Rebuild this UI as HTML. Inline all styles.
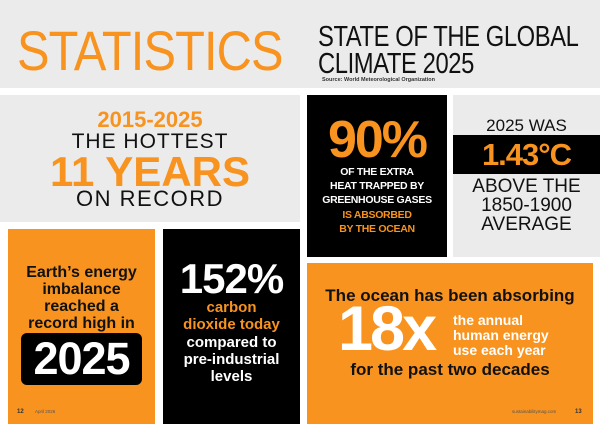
<!DOCTYPE html>
<html><head><meta charset="utf-8"><style>
*{margin:0;padding:0;box-sizing:border-box}
body{width:600px;height:424px;background:#fff;position:relative;overflow:hidden;font-family:"Liberation Sans",sans-serif}
.a{position:absolute}
.t{position:absolute;white-space:nowrap;line-height:1}
.o{color:#f7931e}
.c{text-align:center}
</style></head><body>
<div class="a" style="left:0;top:0;width:600px;height:88px;background:#ebebeb"></div>
<div class="t o" style="left:17px;top:23px;font-size:56px;letter-spacing:-1px;transform:scaleX(0.87);transform-origin:left">STATISTICS</div>
<div class="t" style="left:318px;top:24px;font-size:29px;line-height:27px;color:#111;letter-spacing:-0.5px;transform:scaleX(0.82);transform-origin:left">STATE OF THE GLOBAL<br>CLIMATE 2025</div>
<div class="t" style="left:322px;top:78px;font-size:5.5px;font-weight:bold;color:#333">Source: World Meteorological Organization</div>

<div class="a" style="left:0;top:95px;width:300px;height:127px;background:#ebebeb"></div>
<div class="t o c" style="left:0;width:300px;top:109px;font-size:22px;font-weight:bold">2015-2025</div>
<div class="t c" style="left:0;width:300px;top:131px;font-size:21px;letter-spacing:1px;color:#111">THE HOTTEST</div>
<div class="t o c" style="left:0;width:300px;top:151px;font-size:42px;font-weight:bold">11 YEARS</div>
<div class="t c" style="left:0;width:300px;top:188px;font-size:22px;letter-spacing:1.5px;color:#111">ON RECORD</div>

<div class="a" style="left:307px;top:95px;width:140px;height:162px;background:#000"></div>
<div class="t o c" style="left:307px;width:140px;top:114px;font-size:52px;font-weight:bold;letter-spacing:-2px">90%</div>
<div class="t c" style="left:307px;width:140px;top:165px;font-size:10.5px;font-weight:bold;line-height:14.2px;color:#fff;letter-spacing:-0.3px">OF THE EXTRA<br>HEAT TRAPPED BY<br>GREENHOUSE GASES<br><span class="o">IS ABSORBED<br>BY THE OCEAN</span></div>

<div class="a" style="left:453px;top:95px;width:147px;height:162px;background:#ebebeb"></div>
<div class="t c" style="left:453px;width:147px;top:117px;font-size:17px;color:#111">2025 WAS</div>
<div class="a" style="left:453px;top:135px;width:147px;height:39px;background:#000"></div>
<div class="t o c" style="left:453px;width:147px;top:139px;font-size:31px;font-weight:bold;letter-spacing:-1px">1.43°C</div>
<div class="t c" style="left:453px;width:147px;top:177px;font-size:19px;line-height:19px;color:#111">ABOVE THE<br>1850-1900<br>AVERAGE</div>

<div class="a" style="left:8px;top:229px;width:147px;height:195px;background:#f7931e"></div>
<div class="t c" style="left:8px;width:147px;top:264px;font-size:16px;font-weight:bold;line-height:17px;color:#111">Earth’s energy<br>imbalance<br>reached a<br>record high in</div>
<div class="a" style="left:21px;top:333px;width:121px;height:52px;background:#000;border-radius:6px"></div>
<div class="t c" style="left:21px;width:121px;top:336px;font-size:45px;font-weight:bold;color:#fff;letter-spacing:-1px">2025</div>
<div class="t" style="left:17px;top:409px;font-size:6px;font-weight:bold;color:#333">12</div>
<div class="t" style="left:35px;top:410px;font-size:4.5px;color:#555">April 2026</div>

<div class="a" style="left:163px;top:229px;width:137px;height:195px;background:#000"></div>
<div class="t c" style="left:163px;width:137px;top:258px;font-size:42px;font-weight:bold;color:#fff;letter-spacing:-1px">152%</div>
<div class="t c" style="left:163px;width:137px;top:299px;font-size:15px;font-weight:bold;line-height:17.3px;color:#fff"><span class="o">carbon<br>dioxide today</span><br>compared to<br>pre-industrial<br>levels</div>

<div class="a" style="left:307px;top:263px;width:286px;height:161px;background:#f7931e"></div>
<div class="t c" style="left:307px;width:286px;top:287px;font-size:17px;font-weight:bold;color:#111">The ocean has been absorbing</div>
<div class="t" style="left:338px;top:298px;font-size:63px;font-weight:bold;color:#fff;letter-spacing:-3px">18x</div>
<div class="t" style="left:453px;top:313px;font-size:14px;font-weight:bold;line-height:15px;color:#fff">the annual<br>human energy<br>use each year</div>
<div class="t c" style="left:307px;width:286px;top:361px;font-size:17px;font-weight:bold;color:#111">for the past two decades</div>
<div class="t" style="left:512px;top:410px;font-size:4.5px;color:#555">sustainabilitymag.com</div>
<div class="t" style="left:575px;top:409px;font-size:6px;font-weight:bold;color:#333">13</div>
</body></html>
